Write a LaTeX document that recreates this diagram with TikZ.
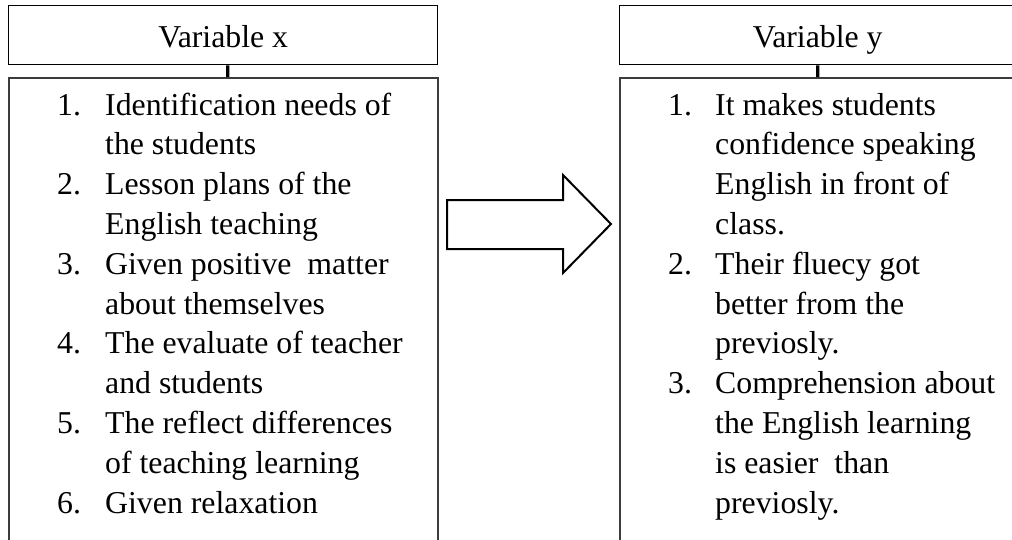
\documentclass[tikz,border=0pt]{standalone}
\usepackage{fontspec}
\setmainfont{Liberation Serif}
\usepackage{array}
\definecolor{boxgray}{RGB}{60,60,60}
\begin{document}
\begin{tikzpicture}[x=1pt,y=-1pt,
  txt/.style={font=\fontsize{31.8}{39.8}\selectfont},
  topbox/.style={draw=black, line width=1.4pt, minimum height=59pt, inner sep=0pt,
    text height=25pt, text depth=0pt, txt},
  listbox/.style={draw=boxgray, line width=1.6pt, minimum height=500pt, inner sep=0pt},
  items/.style={inner sep=0pt, txt},
  link/.style={line width=3.2pt, black},
  bigarrow/.style={draw=black, line width=2pt, line join=miter, fill=white}]
\useasboundingbox (0,0) rectangle (1012,539);
% left column
\node[topbox, minimum width=429pt, anchor=north west] (varx) at (8,5) {Variable x};
\node[listbox, minimum width=429pt, anchor=north west] (listx) at (8,77) {};
\draw[link] ([xshift=4.5pt]varx.south) -- ([xshift=4.5pt]listx.north);
\node[items, anchor=base west] (itx) at (57,115) {\begin{tabular}[t]{@{}p{48pt}@{}l@{}}
1. & Identification needs of\\
   & the students\\
2. & Lesson plans of the\\
   & English teaching\\
3. & Given positive\ \ matter\\
   & about themselves\\
4. & The evaluate of teacher\\
   & and students\\
5. & The reflect differences\\
   & of teaching learning\\
6. & Given relaxation
\end{tabular}};
% right column
\node[topbox, minimum width=396pt, anchor=north west] (vary) at (619,5) {Variable y};
\node[listbox, minimum width=396pt, anchor=north west] (listy) at (619,77) {};
\draw[link] (vary.south) -- (listy.north);
\node[items, anchor=base west] (ity) at (668,115) {\begin{tabular}[t]{@{}p{47pt}@{}l@{}}
1. & It makes students\\
   & confidence speaking\\
   & English in front of\\
   & class.\\
2. & Their fluecy got\\
   & better from the\\
   & previosly.\\
3. & Comprehension about\\
   & the English learning\\
   & is easier\ \ than\\
   & previosly.
\end{tabular}};
% block arrow
\draw[bigarrow] (447,200) -- (563,200) -- (563,175) -- (611,224) -- (563,273) -- (563,249) -- (447,249) -- cycle;
\end{tikzpicture}
\end{document}
